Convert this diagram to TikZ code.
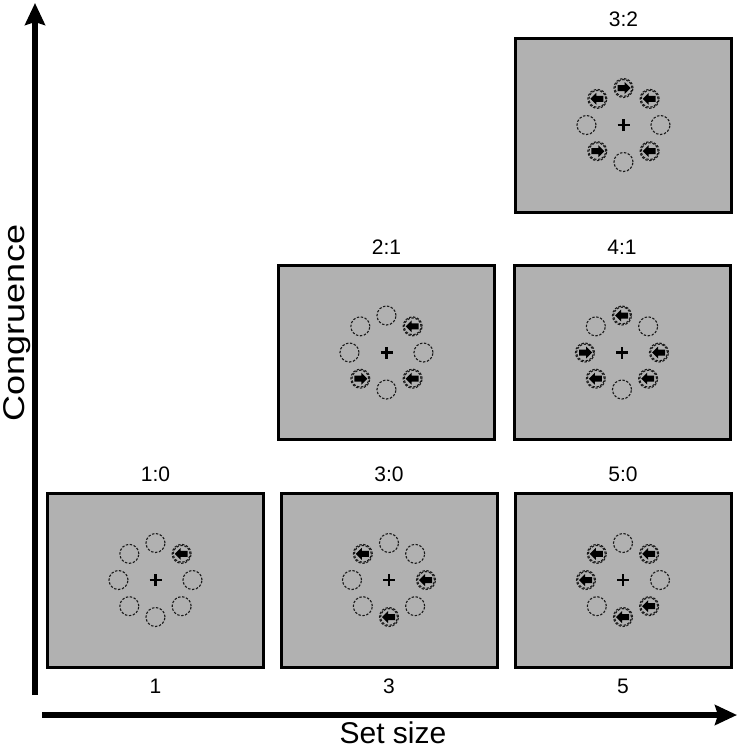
\documentclass[tikz,border=0pt]{standalone}
\usepackage{fontspec}
\setmainfont{Liberation Sans}
\usepackage{graphicx}
\usetikzlibrary{positioning, arrows.meta}
\definecolor{screen}{HTML}{B1B1B1}

% one search display: 8 placeholders, cued ones get an arrow
\newcommand{\stimring}[2]{%
  \foreach \a in {0,45,...,315}
    \draw[ring] ([shift={(\a:37pt)}]#1.center) circle (9.5pt);
  \foreach \a/\dir in {#2} {
    \coordinate (c) at ([shift={(\a:37pt)}]#1.center);
    \draw[ring] (c) circle (8.4pt);
    \fill[shift={(c)}, xscale=\dir] (-7,0) -- (-1,-6) -- (-1,-3) -- (6,-3)
      -- (6,3) -- (-1,3) -- (-1,6) -- cycle;
  }
  \draw[line width=2.6pt] ([xshift=-6pt]#1.center) -- ([xshift=6pt]#1.center)
    ([yshift=-6pt]#1.center) -- ([yshift=6pt]#1.center);
}

\begin{document}
\begin{tikzpicture}[x=1pt, y=-1pt,
    panel/.style={draw, line width=3pt, fill=screen, minimum width=216pt, minimum height=174pt, inner sep=0pt},
    ring/.style={dash pattern=on 2.4pt off 1.6pt, line width=1.1pt, black!90},
    axis/.style={line width=6pt, -{Stealth[length=22pt, width=20pt, inset=3pt]}},
    lab/.style={font=\fontsize{21}{23}\selectfont}]
  \useasboundingbox (0,0) rectangle (740,750);

  % displays
  \node[panel] (p32) at (623.5,125) {};
  \node[panel] (p21) at (386.5,352.5) {};
  \node[panel] (p41) at (622,352.5) {};
  \node[panel] (p10) at (155.5,580) {};
  \node[panel] (p30) at (389,580) {};
  \node[panel] (p50) at (623,580) {};

  \stimring{p32}{90/-1, 135/1, 45/1, 225/-1, 315/1}
  \stimring{p21}{45/1, 225/-1, 315/1}
  \stimring{p41}{90/1, 180/-1, 0/1, 225/1, 315/1}
  \stimring{p10}{45/1}
  \stimring{p30}{135/1, 0/1, 270/1}
  \stimring{p50}{135/1, 45/1, 180/1, 270/1, 315/1}

  \node[lab, above=6pt of p32] (t32) {3:2};
  \node[lab, above=6pt of p21] (t21) {2:1};
  \node[lab, above=6pt of p41] (t41) {4:1};
  \node[lab, above=6pt of p10] (t10) {1:0};
  \node[lab, above=6pt of p30] (t30) {3:0};
  \node[lab, above=6pt of p50] (t50) {5:0};

  \node[lab, below=7pt of p10] (n1) {1};
  \node[lab, below=7pt of p30] (n3) {3};
  \node[lab, below=7pt of p50] (n5) {5};

  % axes
  \coordinate (ybot) at (35,695);
  \coordinate (ytop) at (35,3);
  \coordinate (xleft) at (42,715);
  \coordinate (xright) at (737,715);
  \draw[axis] (ybot) -- (ytop);
  \draw[axis] (xleft) -- (xright);
  \node[rotate=90, font=\fontsize{30}{32}\selectfont] (ylab) at (17,323) {\scalebox{1.2}[1]{Congruence}};
  \node[font=\fontsize{30}{32}\selectfont] (xlab) at (393,733) {Set size};
\end{tikzpicture}
\end{document}
